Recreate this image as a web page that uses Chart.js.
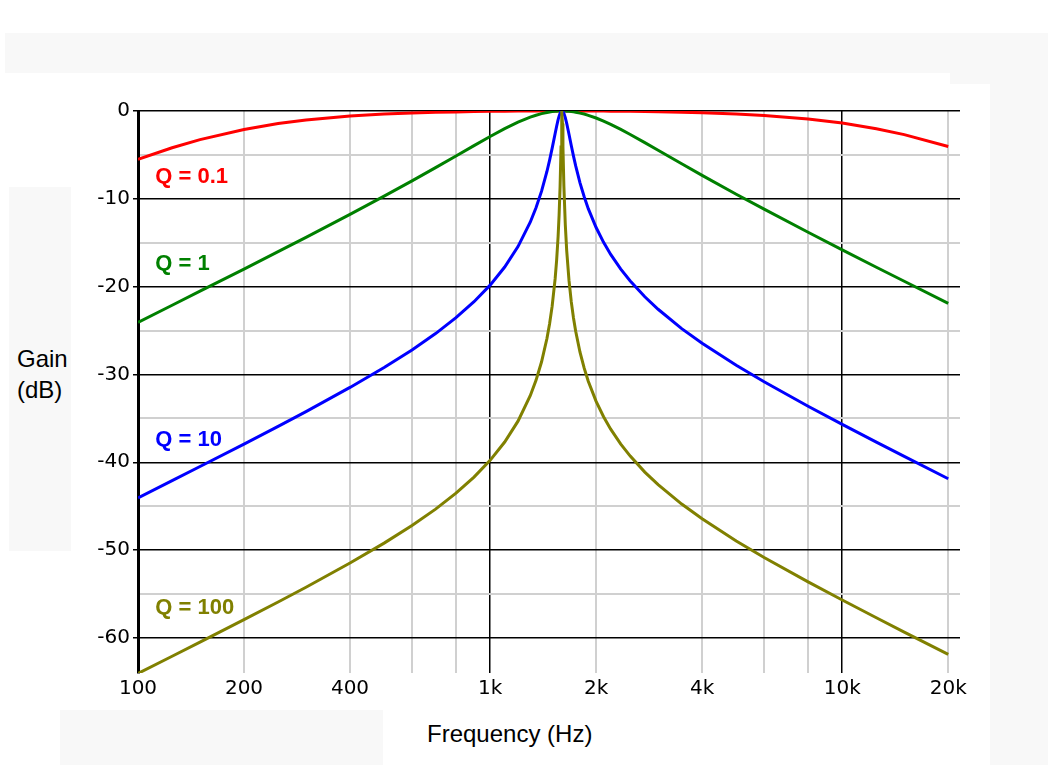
<!DOCTYPE html>
<html>
<head>
<meta charset="utf-8">
<script src="https://cdn.jsdelivr.net/npm/chart.js@4/dist/chart.umd.min.js"></script>
<style>
  body { margin: 0; background: #fff; }
  #wrap { position: relative; width: 1048px; height: 765px; overflow: hidden; }
  .pane { position: absolute; background: #f8f8f8; }
  .title { position: absolute; font-family: "Liberation Sans", Arial, sans-serif; font-size: 24px; color: #000; white-space: nowrap; }
  canvas { position: absolute; left: 0; top: 0; }
</style>
</head>
<body>
<div id="wrap">
  <div class="pane" style="left:5px;top:33px;width:1043px;height:40px"></div>
  <div class="pane" style="left:950px;top:73px;width:98px;height:11px"></div>
  <div class="pane" style="left:990px;top:84px;width:58px;height:681px"></div>
  <div class="pane" style="left:9px;top:187px;width:62px;height:364px"></div>
  <div class="pane" style="left:60px;top:710px;width:323px;height:55px"></div>
  <div class="title" style="left:17px;top:343px;line-height:31px">Gain<br>(dB)</div>
  <div class="title" style="left:427px;top:722px;line-height:24px">Frequency (Hz)</div>
  <canvas id="chart" width="1048" height="765"></canvas>
</div>
<script>
// frequency points (Hz)
const freqs = [100, 125, 150, 200, 250, 300, 400, 500, 600, 700,
  800, 900, 1000, 1100, 1200, 1300, 1350, 1400, 1450, 1475,
  1500, 1530, 1545, 1560, 1570, 1580, 1590, 1595, 1600, 1605,
  1610, 1620, 1635, 1650, 1675, 1700, 1725, 1750, 1800, 1850,
  1900, 2000, 2100, 2200, 2350, 2500, 2750, 3000, 3500, 4000,
  5000, 6000, 8000, 10000, 12500, 15000, 20000];

// gain in dB for each Q
const gainQ01 = [-5.49, -4.18, -3.26, -2.10, -1.43, -1.02, -0.57, -0.35, -0.22, -0.15,
  -0.10, -0.06, -0.04, -0.03, -0.01, -0.01, -0.01, 0, 0, 0,
  0, 0, 0, 0, 0, 0, 0, 0, 0, 0,
  0, 0, 0, 0, 0, 0, 0, 0, 0, 0,
  -0.01, -0.01, -0.01, -0.02, -0.03, -0.04, -0.06, -0.08, -0.13, -0.19,
  -0.33, -0.50, -0.90, -1.37, -2.02, -2.69, -4.05];
const gainQ1 = [-24.07, -22.12, -20.52, -18.00, -16.02, -14.39, -11.78, -9.70, -7.96, -6.45,
  -5.12, -3.94, -2.90, -2.01, -1.27, -0.70, -0.48, -0.30, -0.17, -0.11,
  -0.07, -0.03, -0.02, -0.01, -0.01, 0, 0, 0, 0, 0,
  0, 0, -0.01, -0.02, -0.04, -0.06, -0.10, -0.14, -0.24, -0.35,
  -0.49, -0.80, -1.15, -1.52, -2.10, -2.67, -3.60, -4.47, -6.01, -7.33,
  -9.48, -11.18, -13.81, -15.81, -17.79, -19.39, -21.91];
const gainQ10 = [-44.05, -42.09, -40.48, -37.93, -35.91, -34.23, -31.48, -29.22, -27.21, -25.35,
  -23.54, -21.72, -19.83, -17.77, -15.44, -12.67, -11.02, -9.13, -6.89, -5.63,
  -4.26, -2.56, -1.73, -0.99, -0.58, -0.27, -0.07, -0.02, 0, -0.02,
  -0.07, -0.26, -0.75, -1.40, -2.65, -3.93, -5.14, -6.25, -8.18, -9.77,
  -11.12, -13.27, -14.96, -16.33, -18.00, -19.35, -21.15, -22.58, -24.78, -26.45,
  -28.96, -30.84, -33.63, -35.69, -37.71, -39.34, -41.88];
const gainQ100 = [-64.05, -62.09, -60.48, -57.93, -55.91, -54.23, -51.48, -49.21, -47.20, -45.34,
  -43.52, -41.69, -39.78, -37.70, -35.32, -32.43, -30.67, -28.56, -25.91, -24.25,
  -22.25, -19.09, -16.99, -14.26, -11.86, -8.65, -4.10, -1.44, 0, -1.43,
  -4.07, -8.56, -12.95, -15.90, -19.29, -21.71, -23.57, -25.09, -27.47, -29.29,
  -30.77, -33.07, -34.82, -36.23, -37.93, -39.30, -41.12, -42.55, -44.76, -46.44,
  -48.96, -50.84, -53.62, -55.69, -57.71, -59.34, -61.88];

const seriesNames = ["Q = 0.1", "Q = 1", "Q = 10", "Q = 100"];
const seriesColors = ["#ff0000", "#008000", "#0000ff", "#808000"];
const labelFreq = [112, 112, 112, 112];
const labelGain = [-7.5, -17.4, -37.5, -56.6];

const xTicks = [100, 200, 400, 600, 800, 1000, 2000, 4000, 6000, 8000, 10000, 20000];
const xTickLabels = { 100: "100", 200: "200", 400: "400", 1000: "1k", 2000: "2k", 4000: "4k", 10000: "10k", 20000: "20k" };
const yTicks = [-60, -55, -50, -45, -40, -35, -30, -25, -20, -15, -10, -5, 0];

const allGains = [gainQ01, gainQ1, gainQ10, gainQ100];

const qLabels = {
  id: "qLabels",
  afterDatasetsDraw(chart) {
    const { ctx, scales } = chart;
    ctx.save();
    ctx.font = "bold 22px 'Liberation Sans', Arial, sans-serif";
    ctx.textAlign = "left";
    ctx.textBaseline = "middle";
    seriesNames.forEach((name, i) => {
      ctx.fillStyle = seriesColors[i];
      ctx.fillText(name, scales.x.getPixelForValue(labelFreq[i]), scales.y.getPixelForValue(labelGain[i]));
    });
    ctx.restore();
  },
};

new Chart(document.getElementById("chart"), {
  type: "line",
  data: {
    datasets: allGains.map((vals, i) => ({
      label: seriesNames[i],
      data: freqs.map((f, j) => ({ x: f, y: vals[j] })),
      borderColor: seriesColors[i],
      borderWidth: 3,
      pointRadius: 0,
      tension: 0,
      fill: false,
      order: 4 - i,
    })),
  },
  options: {
    responsive: false,
    animation: false,
    layout: { padding: { left: 0, top: 111, right: 88, bottom: 0 } },
    plugins: { legend: { display: false }, tooltip: { enabled: false } },
    scales: {
      x: {
        type: "logarithmic",
        min: 100,
        max: 21600,
        afterBuildTicks: (axis) => { axis.ticks = xTicks.map((v) => ({ value: v })); },
        afterFit: (axis) => { axis.height = 92; },
        border: { display: false },
        grid: {
          drawTicks: false,
          color: (c) => (c.tick && (c.tick.value === 1000 || c.tick.value === 10000 || c.tick.value === 100) ? "#000" : "#d0d0d0"),
          lineWidth: (c) => (c.tick && (c.tick.value === 1000 || c.tick.value === 10000) ? 1.5 : 2),
        },
        ticks: {
          autoSkip: false,
          maxRotation: 0,
          padding: 4,
          color: "#000",
          font: { family: "'DejaVu Sans', sans-serif", size: 20 },
          callback: (v) => xTickLabels[v] || "",
        },
      },
      y: {
        type: "linear",
        min: -64,
        max: 0,
        afterBuildTicks: (axis) => { axis.ticks = yTicks.map((v) => ({ value: v })); },
        afterFit: (axis) => { axis.width = 138; },
        border: { display: true, color: "#000", width: 3 },
        grid: {
          tickLength: 5,
          color: (c) => (c.tick && c.tick.value % 10 === 0 ? "#000" : "#d0d0d0"),
          tickColor: (c) => (c.tick && c.tick.value % 10 === 0 ? "#000" : "rgba(0,0,0,0)"),
          lineWidth: (c) => (c.tick && c.tick.value % 10 === 0 ? 1.5 : 2),
        },
        ticks: {
          padding: 3,
          color: "#000",
          font: { family: "'DejaVu Sans', sans-serif", size: 20 },
          callback: (v) => (v % 10 === 0 ? String(v) : ""),
        },
      },
    },
  },
  plugins: [qLabels],
});
</script>
</body>
</html>
